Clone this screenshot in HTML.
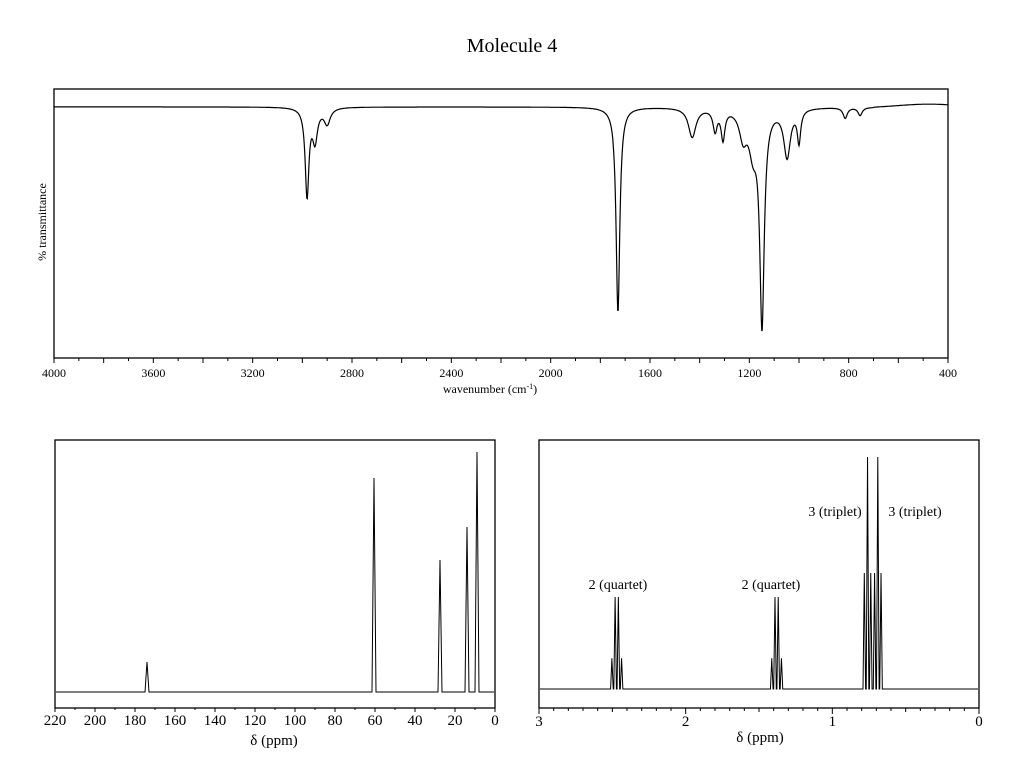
<!DOCTYPE html>
<html><head><meta charset="utf-8"><style>
body{margin:0;background:#fff;}
svg{display:block;font-family:"Liberation Serif",serif;}
</style></head><body>
<svg id="s" width="1024" height="773" viewBox="0 0 1024 773">
<text x="512" y="52" text-anchor="middle" font-size="20">Molecule 4</text>
<rect x="54" y="89" width="894" height="269" fill="none" stroke="#000" stroke-width="1.3"/>
<text transform="translate(46,222) rotate(-90)" text-anchor="middle" font-size="12">% transmittance</text>
<text x="490" y="393" text-anchor="middle" font-size="12">wavenumber (cm<tspan baseline-shift="super" font-size="8">-1</tspan>)</text>
<rect x="55" y="440" width="440" height="268" fill="none" stroke="#000" stroke-width="1.3"/>
<text x="274" y="745" text-anchor="middle" font-size="15">δ (ppm)</text>
<rect x="539" y="440" width="440" height="268" fill="none" stroke="#000" stroke-width="1.3"/>
<text x="760" y="742" text-anchor="middle" font-size="15">δ (ppm)</text>
<text x="618" y="589" text-anchor="middle" font-size="14">2 (quartet)</text>
<text x="771" y="589" text-anchor="middle" font-size="14">2 (quartet)</text>
<text x="835" y="516" text-anchor="middle" font-size="14">3 (triplet)</text>
<text x="915" y="516" text-anchor="middle" font-size="14">3 (triplet)</text>
<g id="g"></g>
</svg>
<script>
// IR data
const irPeakWn = [2981, 2949, 2900, 1729, 1430, 1338, 1306, 1225, 1185, 1149, 1048, 1000, 814, 754];
const irPeakDrop = [33, 12, 6, 77, 11, 8, 11, 10, 14, 80, 18, 12, 4, 3];
const irPeakHw = [9, 12, 15, 9, 18, 10, 9, 18, 20, 11, 16, 8, 10, 10];
const irTicks = [4000, 3600, 3200, 2800, 2400, 2000, 1600, 1200, 800, 400];
// 13C data
const cShift = [174, 60.5, 27.5, 14, 9];
const cHeight = [30, 214, 132, 165, 240];
const cTicks = [220, 200, 180, 160, 140, 120, 100, 80, 60, 40, 20, 0];
// 1H data
const hCenter = [2.47, 1.38, 0.76, 0.69];
const hMult = [4, 4, 3, 3];
const hHeight = [92, 92, 232, 232];
const hTicks = [3, 2, 1, 0];

const NS = "http://www.w3.org/2000/svg";
const G = document.getElementById('g');
function mk(t, a) { const e = document.createElementNS(NS, t); for (const k in a) e.setAttribute(k, a[k]); G.appendChild(e); return e; }

// IR
const irX = w => 54 + (4000 - w) * 894 / 3600;
const irY = T => 89 + (100 - T) * 2.67;
let d = "";
for (let w = 4000; w >= 400; w -= 2) {
  let T = 93.3;
  if (w < 700) { const u = (700 - w) / 220; T += 1.1 * Math.exp(-(u - 1) * (u - 1) * 2); }
  for (let i = 0; i < irPeakWn.length; i++) { const z = (w - irPeakWn[i]) / irPeakHw[i]; T -= irPeakDrop[i] / (1 + z * z); }
  d += (d ? "L" : "M") + irX(w).toFixed(1) + "," + irY(T).toFixed(1);
}
let p = mk('path', { d: d, fill: 'none', stroke: '#000', 'stroke-width': 1.2 });


for (let w = 4000; w >= 400; w -= 100) {
  const x = irX(w), maj = w % 200 === 0;
  let t = mk('line', { x1: x, x2: x, y1: 358, y2: 358 + (maj ? 5 : 3), stroke: '#000' });
  
  
}
irTicks.forEach(w => {
  let t = mk('text', { x: irX(w), y: 377, 'text-anchor': 'middle', 'font-size': 12 });
  t.textContent = w;
  
  
});

// 13C
const cX = v => 55 + (220 - v) * 440 / 220;
const cBase = 692;
let cd = "M56," + cBase;
cShift.slice().sort((a, b) => b - a).forEach(s => {
  const i = cShift.indexOf(s), x = cX(s);
  cd += "L" + (x - 2) + "," + cBase + "L" + x + "," + (cBase - cHeight[i]) + "L" + (x + 2) + "," + cBase;
});
cd += "L494," + cBase;
p = mk('path', { d: cd, fill: 'none', stroke: '#000', 'stroke-width': 1 });


for (let v = 220; v >= 0; v -= 10) {
  let t = mk('line', { x1: cX(v), x2: cX(v), y1: 708, y2: 708 + (v % 20 === 0 ? 4 : 2), stroke: '#000' });
  
  
}
cTicks.forEach(v => {
  let t = mk('text', { x: cX(v), y: 725, 'text-anchor': 'middle', 'font-size': 15 });
  t.textContent = v;
  
  
});

// 1H
const hX = v => 539 + (3 - v) * 440 / 3;
const hBase = 689;
const J = 0.022;
let lines = [];
hCenter.forEach((c, i) => {
  const n = hMult[i];
  const rel = n === 4 ? [1, 3, 3, 1] : [1, 2, 1];
  const mx = Math.max(...rel);
  rel.forEach((r, k) => lines.push([c + (k - (n - 1) / 2) * J, hHeight[i] * r / mx]));
});
lines.sort((a, b) => b[0] - a[0]);
let hd = "M540," + hBase;
lines.forEach(l => { const x = hX(l[0]); hd += "L" + (x - 1.3) + "," + hBase + "L" + x + "," + (hBase - l[1]) + "L" + (x + 1.3) + "," + hBase; });
hd += "L978," + hBase;
p = mk('path', { d: hd, fill: 'none', stroke: '#000', 'stroke-width': 1 });


for (let k = 0; k <= 30; k++) {
  const v = k / 10;
  let t = mk('line', { x1: hX(v), x2: hX(v), y1: 708, y2: 708 + (k % 10 === 0 ? 6 : (k % 5 === 0 ? 4 : 3)), stroke: '#000' });
  
  
}
hTicks.forEach(v => {
  let t = mk('text', { x: hX(v), y: 726, 'text-anchor': 'middle', 'font-size': 15 });
  t.textContent = v;
  
  
});
</script>
</body></html>
